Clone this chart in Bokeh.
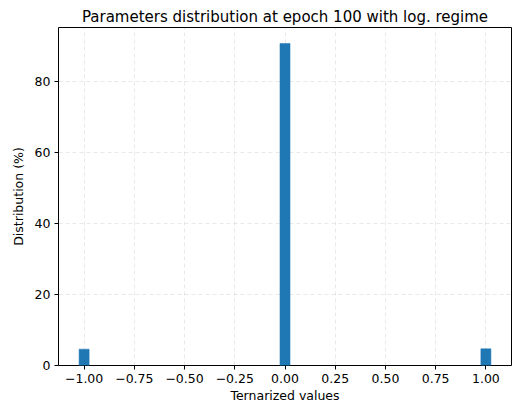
from bokeh.plotting import figure
from bokeh.models import FixedTicker, Range1d
from bokeh.embed import file_html
from bokeh.resources import INLINE

values = [-1.0, 0.0, 1.0]
percent = [4.6, 90.7, 4.7]
bin_width = 0.05
x_ticks = [-1.0, -0.75, -0.5, -0.25, 0.0, 0.25, 0.5, 0.75, 1.0]
x_tick_labels = ["\u22121.00", "\u22120.75", "\u22120.50", "\u22120.25", "0.00", "0.25", "0.50", "0.75", "1.00"]
y_ticks = [0, 20, 40, 60, 80]

FONT = "DejaVu Sans"

p = figure(width=513, height=405, output_backend="svg", toolbar_location=None,
           title="Parameters distribution at epoch 100 with log. regime",
           x_range=Range1d(-1.1275, 1.1275), y_range=Range1d(0, 95.2))
p.min_border_left = 58
p.min_border_right = 2
p.min_border_top = 27
p.min_border_bottom = 40

p.title.align = "center"
p.title.text_font = FONT
p.title.text_font_size = "15px"
p.title.text_font_style = "normal"
p.title.text_color = "black"
p.title.standoff = 4

p.vbar(x=values, top=percent, width=bin_width, bottom=0,
       fill_color="#1f77b4", line_color="#1f77b4", line_width=0.5, alpha=1)

p.outline_line_color = "black"
p.outline_line_width = 1
p.outline_line_alpha = 1

for ax in (p.xaxis[0], p.yaxis[0]):
    ax.axis_line_color = None
    ax.major_tick_line_color = "black"
    ax.major_tick_out = 4
    ax.major_tick_in = 0
    ax.minor_tick_line_color = None
    ax.major_label_text_font = FONT
    ax.major_label_text_font_size = "12.5px"
    ax.major_label_text_color = "black"
    ax.axis_label_text_font = FONT
    ax.axis_label_text_font_size = "12.5px"
    ax.axis_label_text_font_style = "normal"
    ax.axis_label_text_color = "black"

p.xaxis[0].ticker = FixedTicker(ticks=x_ticks)
p.xaxis[0].major_label_overrides = {t: l for t, l in zip(x_ticks, x_tick_labels)}
p.xaxis[0].major_label_standoff = 4
p.yaxis[0].ticker = FixedTicker(ticks=y_ticks)
p.yaxis[0].major_label_standoff = 4
p.xaxis[0].axis_label = "Ternarized values"
p.yaxis[0].axis_label = "Distribution (%)"
p.xaxis[0].axis_label_standoff = 2
p.yaxis[0].axis_label_standoff = 6

for g in (p.xgrid[0], p.ygrid[0]):
    g.grid_line_color = "#b0b0b0"
    g.grid_line_alpha = 0.35
    g.grid_line_dash = "4 3"
    g.grid_line_width = 0.8

open("out.html", "w").write(file_html(p, INLINE))
